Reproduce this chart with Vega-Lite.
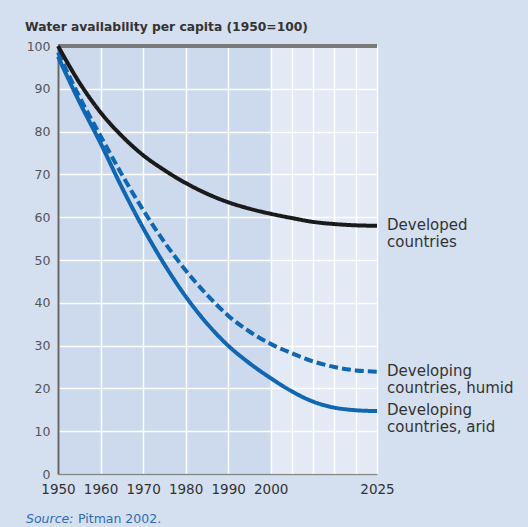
{
  "$schema": "https://vega.github.io/schema/vega-lite/v6.json",
  "width": 319,
  "height": 428,
  "autosize": {"type": "none"},
  "padding": {"left": 58, "top": 46, "right": 151, "bottom": 53},
  "background": "#d4dff0",
  "title": {
    "text": "Water availability per capita (1950=100)",
    "anchor": "start",
    "frame": "group",
    "dx": -33,
    "offset": 5,
    "font": "DejaVu Sans",
    "fontSize": 12.3,
    "fontWeight": "bold",
    "color": "#333333"
  },
  "datasets": {
    "lines": [
      {"series": "Developing countries, arid", "year": 1950, "value": 97.5},
      {"series": "Developing countries, arid", "year": 1955, "value": 87},
      {"series": "Developing countries, arid", "year": 1960, "value": 77.3},
      {"series": "Developing countries, arid", "year": 1965, "value": 67},
      {"series": "Developing countries, arid", "year": 1970, "value": 57.5},
      {"series": "Developing countries, arid", "year": 1975, "value": 49},
      {"series": "Developing countries, arid", "year": 1980, "value": 41.5},
      {"series": "Developing countries, arid", "year": 1985, "value": 35.2},
      {"series": "Developing countries, arid", "year": 1990, "value": 30},
      {"series": "Developing countries, arid", "year": 1995, "value": 25.9},
      {"series": "Developing countries, arid", "year": 2000, "value": 22.4},
      {"series": "Developing countries, arid", "year": 2005, "value": 19.3},
      {"series": "Developing countries, arid", "year": 2010, "value": 16.9},
      {"series": "Developing countries, arid", "year": 2015, "value": 15.5},
      {"series": "Developing countries, arid", "year": 2020, "value": 14.9},
      {"series": "Developing countries, arid", "year": 2025, "value": 14.7},
      {"series": "Developing countries, humid", "year": 1950, "value": 98.5},
      {"series": "Developing countries, humid", "year": 1955, "value": 88.2},
      {"series": "Developing countries, humid", "year": 1960, "value": 79},
      {"series": "Developing countries, humid", "year": 1965, "value": 70},
      {"series": "Developing countries, humid", "year": 1970, "value": 61.7},
      {"series": "Developing countries, humid", "year": 1975, "value": 54.2},
      {"series": "Developing countries, humid", "year": 1980, "value": 47.6},
      {"series": "Developing countries, humid", "year": 1985, "value": 41.9},
      {"series": "Developing countries, humid", "year": 1990, "value": 37},
      {"series": "Developing countries, humid", "year": 1995, "value": 33.3},
      {"series": "Developing countries, humid", "year": 2000, "value": 30.4},
      {"series": "Developing countries, humid", "year": 2005, "value": 28.2},
      {"series": "Developing countries, humid", "year": 2010, "value": 26.3},
      {"series": "Developing countries, humid", "year": 2015, "value": 25},
      {"series": "Developing countries, humid", "year": 2020, "value": 24.2},
      {"series": "Developing countries, humid", "year": 2025, "value": 23.9},
      {"series": "Developed countries", "year": 1950, "value": 100},
      {"series": "Developed countries", "year": 1955, "value": 91.5},
      {"series": "Developed countries", "year": 1960, "value": 84.5},
      {"series": "Developed countries", "year": 1965, "value": 79},
      {"series": "Developed countries", "year": 1970, "value": 74.5},
      {"series": "Developed countries", "year": 1975, "value": 71},
      {"series": "Developed countries", "year": 1980, "value": 68},
      {"series": "Developed countries", "year": 1985, "value": 65.5},
      {"series": "Developed countries", "year": 1990, "value": 63.5},
      {"series": "Developed countries", "year": 1995, "value": 62},
      {"series": "Developed countries", "year": 2000, "value": 60.8},
      {"series": "Developed countries", "year": 2005, "value": 59.8},
      {"series": "Developed countries", "year": 2010, "value": 58.9},
      {"series": "Developed countries", "year": 2015, "value": 58.4},
      {"series": "Developed countries", "year": 2020, "value": 58.1},
      {"series": "Developed countries", "year": 2025, "value": 58}
    ],
    "labels": [
      {"series": "Developed countries", "year": 2025, "value": 58, "label": "Developed\ncountries"},
      {"series": "Developing countries, humid", "year": 2025, "value": 23.9, "label": "Developing\ncountries, humid"},
      {"series": "Developing countries, arid", "year": 2025, "value": 14.7, "label": "Developing\ncountries, arid"}
    ]
  },
  "layer": [
    {
      "data": {"values": [{}]},
      "mark": {"type": "rect", "fill": "white", "opacity": 0.45},
      "encoding": {
        "x": {
          "datum": 2000, "type": "quantitative",
          "scale": {"domain": [1950, 2025], "nice": false, "zero": false},
          "axis": {
            "values": [1950, 1960, 1970, 1980, 1990, 2000, 2005, 2010, 2015, 2020, 2025],
            "tickCount": 30,
            "labelExpr": "datum.value > 2000 && datum.value < 2025 ? '' : datum.label",
            "format": "d",
            "title": null,
            "grid": true,
            "ticks": false,
            "labelPadding": 8,
            "labelFont": "DejaVu Sans",
            "labelFontSize": 13.5,
            "labelColor": "#333333",
            "labelFlush": false,
            "labelOverlap": false,
            "domainColor": "#888888",
            "domainWidth": 1.5,
            "gridColor": "#ffffff",
            "gridWidth": 1.5,
            "gridOpacity": 1
          }
        },
        "x2": {"datum": 2025},
        "y": {
          "datum": 0, "type": "quantitative",
          "scale": {"domain": [0, 100], "nice": false},
          "axis": {
            "values": [0, 10, 20, 30, 40, 50, 60, 70, 80, 90, 100],
            "tickCount": 30,
            "title": null,
            "grid": true,
            "ticks": false,
            "labelPadding": 8,
            "labelFont": "DejaVu Sans",
            "labelFontSize": 12.5,
            "labelColor": "#555555",
            "labelOverlap": false,
            "domainColor": "#666666",
            "domainWidth": 2,
            "gridColor": "#ffffff",
            "gridWidth": 1.5,
            "gridOpacity": 1
          }
        },
        "y2": {"datum": 100}
      }
    },
    {
      "data": {"values": [{}]},
      "mark": {"type": "rule", "stroke": "#7a7a7a", "strokeWidth": 4},
      "encoding": {
        "x": {"datum": 1950, "type": "quantitative"},
        "x2": {"datum": 2025},
        "y": {"datum": 100, "type": "quantitative"}
      }
    },
    {
      "data": {"name": "lines"},
      "mark": {"type": "line", "strokeWidth": 4, "interpolate": "monotone", "strokeCap": "butt"},
      "encoding": {
        "x": {"field": "year", "type": "quantitative"},
        "y": {"field": "value", "type": "quantitative"},
        "color": {
          "field": "series", "type": "nominal",
          "scale": {
            "domain": ["Developed countries", "Developing countries, humid", "Developing countries, arid"],
            "range": ["#1a1a1a", "#0f66b2", "#0f66b2"]
          },
          "legend": null
        },
        "strokeDash": {
          "field": "series", "type": "nominal",
          "scale": {
            "domain": ["Developed countries", "Developing countries, humid", "Developing countries, arid"],
            "range": [[1, 0], [9, 4], [1, 0]]
          },
          "legend": null
        },
        "order": {"field": "year"}
      }
    },
    {
      "data": {"name": "labels"},
      "mark": {
        "type": "text", "align": "left", "baseline": "alphabetic",
        "dx": 10, "dy": 4, "lineBreak": "\n", "lineHeight": 17,
        "font": "DejaVu Sans", "fontSize": 15, "fill": "#333333"
      },
      "encoding": {
        "x": {"field": "year", "type": "quantitative"},
        "y": {"field": "value", "type": "quantitative"},
        "text": {"field": "label"}
      }
    },
    {
      "data": {"values": [{}]},
      "mark": {
        "type": "text", "align": "left", "baseline": "alphabetic",
        "dx": -32, "dy": 49, "font": "DejaVu Sans", "fontSize": 12.5,
        "fontStyle": "italic", "fill": "#2e6db4"
      },
      "encoding": {
        "x": {"datum": 1950, "type": "quantitative"},
        "y": {"datum": 0, "type": "quantitative"},
        "text": {"value": "Source:"}
      }
    },
    {
      "data": {"values": [{}]},
      "mark": {
        "type": "text", "align": "left", "baseline": "alphabetic",
        "dx": 20, "dy": 49, "font": "DejaVu Sans", "fontSize": 12.5,
        "fill": "#2e6db4"
      },
      "encoding": {
        "x": {"datum": 1950, "type": "quantitative"},
        "y": {"datum": 0, "type": "quantitative"},
        "text": {"value": "Pitman 2002."}
      }
    }
  ],
  "config": {
    "view": {"fill": "#cdd9ed", "stroke": null}
  }
}
